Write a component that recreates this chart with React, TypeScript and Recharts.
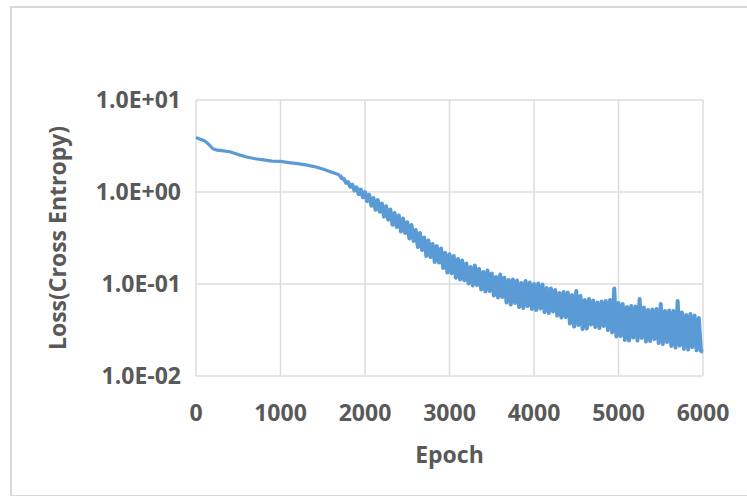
import { CartesianGrid, Line, LineChart, XAxis, YAxis } from "recharts"

// early epochs: the curve is smooth, sampled sparsely
const smoothEpochs = [0, 50, 100, 150, 200, 250, 300, 400, 500, 600, 700, 800, 900, 1000, 1100, 1200, 1300, 1400, 1500, 1600]
const smoothLoss = [3.9, 3.75, 3.6, 3.3, 2.95, 2.85, 2.82, 2.74, 2.55, 2.4, 2.3, 2.23, 2.17, 2.15, 2.09, 2.03, 1.97, 1.89, 1.78, 1.65]

// from epoch 1700 the loss is noisy, read every 25 epochs
const noisyStart = 1700
const noisyStep = 25
const noisyLoss = [
  1.53, 1.41, 1.39, 1.26, 1.28, 1.14, 1.2, 1.04, 1.12, 0.95, 1.06, 0.876,
  1.0, 0.795, 0.93, 0.71, 0.86, 0.64, 0.82, 0.61, 0.75, 0.54, 0.7, 0.5,
  0.645, 0.44, 0.59, 0.417, 0.555, 0.372, 0.515, 0.358, 0.47, 0.312, 0.438, 0.294,
  0.386, 0.252, 0.358, 0.234, 0.32, 0.202, 0.297, 0.197, 0.272, 0.173, 0.258, 0.171,
  0.243, 0.149, 0.218, 0.133, 0.21, 0.131, 0.202, 0.117, 0.187, 0.112, 0.18, 0.11,
  0.167, 0.101, 0.153, 0.0963, 0.159, 0.0975, 0.146, 0.0872, 0.135, 0.0829, 0.14, 0.084,
  0.13, 0.075, 0.119, 0.0714, 0.127, 0.0723, 0.117, 0.0629, 0.1105, 0.0598, 0.112, 0.0621,
  0.109, 0.0562, 0.1025, 0.0549, 0.1078, 0.0576, 0.104, 0.0535, 0.1, 0.0522, 0.1012, 0.0542,
  0.0987, 0.0496, 0.0905, 0.0483, 0.0894, 0.0503, 0.0861, 0.0454, 0.0799, 0.0432, 0.0819, 0.0437,
  0.0808, 0.0372, 0.076, 0.0345, 0.084, 0.0358, 0.0741, 0.0324, 0.067, 0.0328, 0.0687, 0.0363,
  0.0662, 0.034, 0.0629, 0.0332, 0.0645, 0.0349, 0.0653, 0.0316, 0.067, 0.0297, 0.0894, 0.0269,
  0.0621, 0.0272, 0.0606, 0.0246, 0.0562, 0.0243, 0.0576, 0.0262, 0.0569, 0.0243, 0.0687, 0.0259,
  0.0555, 0.0237, 0.0522, 0.024, 0.0529, 0.0252, 0.0535, 0.0228, 0.0606, 0.0222, 0.0509, 0.0234,
  0.0515, 0.0212, 0.0509, 0.0204, 0.0653, 0.0214, 0.049, 0.0197, 0.046, 0.0194, 0.0472, 0.0206,
  0.0454, 0.019, 0.0427, 0.0187, 0.0183,
]

const xTicks = [0, 1000, 2000, 3000, 4000, 5000, 6000]
const yTicks = [0.01, 0.1, 1, 10]

const data = [
  ...smoothEpochs.map((epoch, i) => ({ epoch, smooth: smoothLoss[i] as number | undefined, noisy: undefined as number | undefined })),
  ...noisyLoss.map((loss, i) => ({
    epoch: noisyStart + i * noisyStep,
    smooth: i === 0 ? loss : undefined,
    noisy: loss as number | undefined,
  })),
]

const sci = (v: number) => {
  const [m, e] = v.toExponential(1).split("e")
  return `${m}E${e[0]}${e.slice(1).padStart(2, "0")}`
}

const font = { fontFamily: "'Open Sans', sans-serif", fontWeight: 700, fill: "#595959" }
const blue = "#5b9bd5"

export default function App() {
  return (
    <div style={{ position: "absolute", left: 0, top: 0, width: 747, height: 496, background: "#fff" }}>
      <div
        style={{
          position: "absolute",
          left: 10,
          top: 6,
          width: 760,
          height: 487,
          borderLeft: "2px solid #d9d9d9",
          borderTop: "2px solid #d9d9d9",
          borderBottom: "2px solid #d9d9d9",
        }}
      />
      <div style={{ position: "absolute", left: 0, top: 0 }}>
        <LineChart width={747} height={496} data={data} margin={{ top: 100, right: 44, left: 40, bottom: 20 }}>
          <CartesianGrid stroke="#dcdcdc" strokeWidth={1.5} />
          <XAxis
            dataKey="epoch"
            type="number"
            domain={[0, 6000]}
            ticks={xTicks}
            axisLine={false}
            tickLine={false}
            tickSize={0}
            tickMargin={29}
            height={100}
            tick={{ ...font, fontSize: 23 }}
            label={{ value: "Epoch", position: "insideBottom", offset: 13, style: { ...font, fontSize: 23 } }}
          />
          <YAxis
            scale="log"
            domain={[0.01, 10]}
            allowDataOverflow
            ticks={yTicks}
            tickFormatter={sci}
            axisLine={false}
            tickLine={false}
            tickSize={0}
            tickMargin={15}
            width={156}
            tick={{ ...font, fontSize: 23 }}
            label={{
              value: "Loss(Cross Entropy)",
              angle: -90,
              position: "insideLeft",
              offset: 18,
              style: { ...font, fontSize: 23, textAnchor: "middle" },
            }}
          />
          <Line
            type="linear"
            dataKey="smooth"
            stroke={blue}
            strokeWidth={3.2}
            strokeLinejoin="round"
            dot={false}
            isAnimationActive={false}
          />
          <Line
            type="linear"
            dataKey="noisy"
            stroke={blue}
            strokeWidth={4}
            strokeLinejoin="round"
            dot={false}
            isAnimationActive={false}
          />
        </LineChart>
      </div>
    </div>
  )
}
